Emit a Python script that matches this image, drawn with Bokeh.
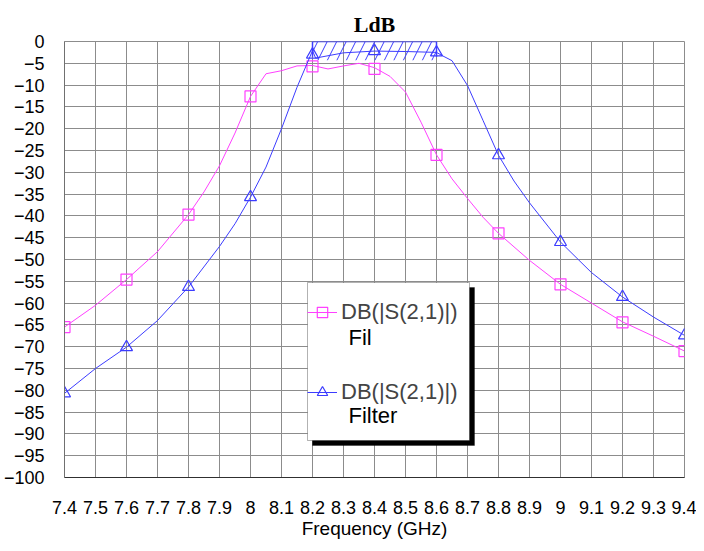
from bokeh.plotting import figure
from bokeh.models import (FixedTicker, Legend, LegendItem, BoxAnnotation, Label)
from bokeh.embed import file_html
from bokeh.resources import INLINE

# ---- data ----
fil_f = [7.4, 7.5, 7.6, 7.7, 7.8, 7.85, 7.9, 7.95, 8.0, 8.05, 8.1, 8.15, 8.2, 8.25,
         8.3, 8.35, 8.4, 8.45, 8.5, 8.55, 8.6, 8.65, 8.7, 8.75, 8.8, 8.9, 9.0, 9.1,
         9.2, 9.3, 9.4]
fil_db = [-65.5, -60.5, -54.6, -48.2, -39.7, -34.5, -28.5, -21.0, -12.6, -7.4, -6.7,
          -5.6, -5.5, -6.3, -5.6, -5.0, -6.0, -8.0, -11.6, -18.5, -26.0, -31.5, -36.0,
          -40.3, -44.0, -50.2, -55.7, -60.0, -64.3, -67.6, -71.0]
fil_mark_f = [7.4, 7.6, 7.8, 8.0, 8.2, 8.4, 8.6, 8.8, 9.0, 9.2, 9.4]
fil_mark_db = [-65.5, -54.6, -39.7, -12.6, -5.7, -6.3, -26.0, -44.0, -55.7, -64.4, -71.0]

filter_f = [7.4, 7.5, 7.6, 7.7, 7.8, 7.9, 7.95, 8.0, 8.05, 8.1, 8.15, 8.2, 8.21, 8.3,
            8.4, 8.5, 8.6, 8.62, 8.65, 8.7, 8.75, 8.8, 8.85, 8.9, 9.0, 9.1, 9.2, 9.3, 9.4]
filter_db = [-80.7, -75.0, -70.1, -64.0, -56.3, -47.0, -41.8, -35.7, -28.8, -20.0,
             -10.5, -2.1, -3.8, -2.6, -2.2, -2.3, -2.5, -3.3, -4.4, -10.1, -18.1,
             -26.1, -32.0, -37.0, -46.0, -53.0, -58.6, -63.2, -67.4]
filter_mark_f = [7.4, 7.6, 7.8, 8.0, 8.2, 8.4, 8.6, 8.8, 9.0, 9.2, 9.4]
filter_mark_db = [-80.7, -70.1, -56.3, -35.7, -3.0, -2.2, -2.5, -26.1, -46.0, -58.6, -67.4]

mask_left, mask_right = 8.2, 8.6
mask_top, mask_bottom, mask_side_low = 0.0, -4.3, -3.5

x_tick_labels = ["7.4", "7.5", "7.6", "7.7", "7.8", "7.9", "8", "8.1", "8.2", "8.3",
                 "8.4", "8.5", "8.6", "8.7", "8.8", "8.9", "9", "9.1", "9.2", "9.3", "9.4"]
y_ticks = [0, -5, -10, -15, -20, -25, -30, -35, -40, -45, -50, -55, -60, -65, -70,
           -75, -80, -85, -90, -95, -100]

title_text = "LdB"
x_label = "Frequency (GHz)"
legend_main = "DB(|S(2,1)|)"
legend_sub = ["Fil", "Filter"]

MAG = "#ff40ff"
BLUE = "#3c3cff"
GRID = "#8c8c8c"

x_ticks = [float(s) for s in x_tick_labels]

p = figure(width=696, height=543, x_range=(x_ticks[0], x_ticks[-1]),
           y_range=(y_ticks[-1], y_ticks[0]), output_backend="svg",
           toolbar_location=None, min_border_left=61, min_border_right=12,
           min_border_top=41, min_border_bottom=66)

p.title.text = title_text
p.title.align = "center"
p.title.text_font = "Liberation Serif"
p.title.text_font_style = "bold"
p.title.text_font_size = "22px"
p.title.text_color = "black"
p.title.standoff = 9

p.outline_line_color = GRID
p.background_fill_color = "white"

# axes
p.xaxis.ticker = FixedTicker(ticks=x_ticks)
p.xaxis.major_label_overrides = {t: s for t, s in zip(x_ticks, x_tick_labels)}
p.yaxis.ticker = FixedTicker(ticks=y_ticks)
for ax in (p.xaxis[0], p.yaxis[0]):
    ax.major_tick_line_color = None
    ax.minor_tick_line_color = None
    ax.major_tick_out = 0
    ax.major_tick_in = 0
    ax.major_label_text_color = "black"
p.xaxis.major_label_text_font = "Liberation Sans"
p.xaxis.major_label_text_font_size = "18px"
p.xaxis.major_label_standoff = 23
p.xaxis.axis_line_color = "#303030"
p.xaxis.axis_label = x_label
p.xaxis.axis_label_text_font = "Liberation Sans"
p.xaxis.axis_label_text_font_size = "19px"
p.xaxis.axis_label_text_font_style = "normal"
p.xaxis.axis_label_text_color = "black"
p.xaxis.axis_label_standoff = 1
p.yaxis.major_label_text_font = "Liberation Sans"
p.yaxis.major_label_text_font_size = "18px"
p.yaxis.major_label_standoff = 20
p.yaxis.axis_line_color = "#707070"

p.xgrid.ticker = FixedTicker(ticks=x_ticks)
p.ygrid.ticker = FixedTicker(ticks=y_ticks)
p.grid.grid_line_color = GRID
p.grid.grid_line_width = 1

# spec mask
p.quad(left=mask_left, right=mask_right, top=mask_top, bottom=mask_bottom,
       fill_alpha=0, line_alpha=0, hatch_pattern="/", hatch_color=BLUE,
       hatch_scale=19, hatch_weight=1)
p.line(x=[mask_left, mask_left, mask_right, mask_right],
       y=[mask_side_low, mask_top, mask_top, mask_side_low], line_color=BLUE, line_width=1.5)

# curves
fil_line = p.line(fil_f, fil_db, line_color=MAG, line_width=1)
fil_sc = p.scatter(fil_mark_f, fil_mark_db, marker="square", size=11,
                   fill_alpha=0, line_color=MAG, line_width=1.2)
flt_line = p.line(filter_f, filter_db, line_color=BLUE, line_width=1)
flt_sc = p.scatter(filter_mark_f, filter_mark_db, marker="triangle", size=12,
                   fill_alpha=0, line_color=BLUE, line_width=1.2)

# legend box with shadow (screen units relative to frame)
shadow = BoxAnnotation(left=248, right=410, top=190, bottom=32,
                       left_units="screen", right_units="screen",
                       top_units="screen", bottom_units="screen",
                       fill_color="black", fill_alpha=1, line_color="black")
box = BoxAnnotation(left=243, right=405, top=195, bottom=37,
                    left_units="screen", right_units="screen",
                    top_units="screen", bottom_units="screen",
                    fill_color="white", fill_alpha=1, line_color="black", line_width=1)
p.add_layout(shadow)
p.add_layout(box)

legend = Legend(items=[LegendItem(label=legend_main, renderers=[fil_line, fil_sc]),
                       LegendItem(label=legend_main, renderers=[flt_line, flt_sc])],
                location=(243, 72), padding=7, spacing=54, glyph_width=30,
                glyph_height=26, label_height=26, label_standoff=4,
                border_line_color=None, background_fill_alpha=0,
                label_text_font="Liberation Sans", label_text_font_size="22px",
                label_text_baseline="middle", margin=0)
p.add_layout(legend, "center")

for txt, yy in zip(legend_sub, [140, 62]):
    p.add_layout(Label(x=284, y=yy, x_units="screen", y_units="screen", text=txt,
                       text_font="Liberation Sans", text_font_size="22px",
                       text_baseline="middle", text_color="black"))

open("out.html", "w").write(file_html(p, INLINE))
